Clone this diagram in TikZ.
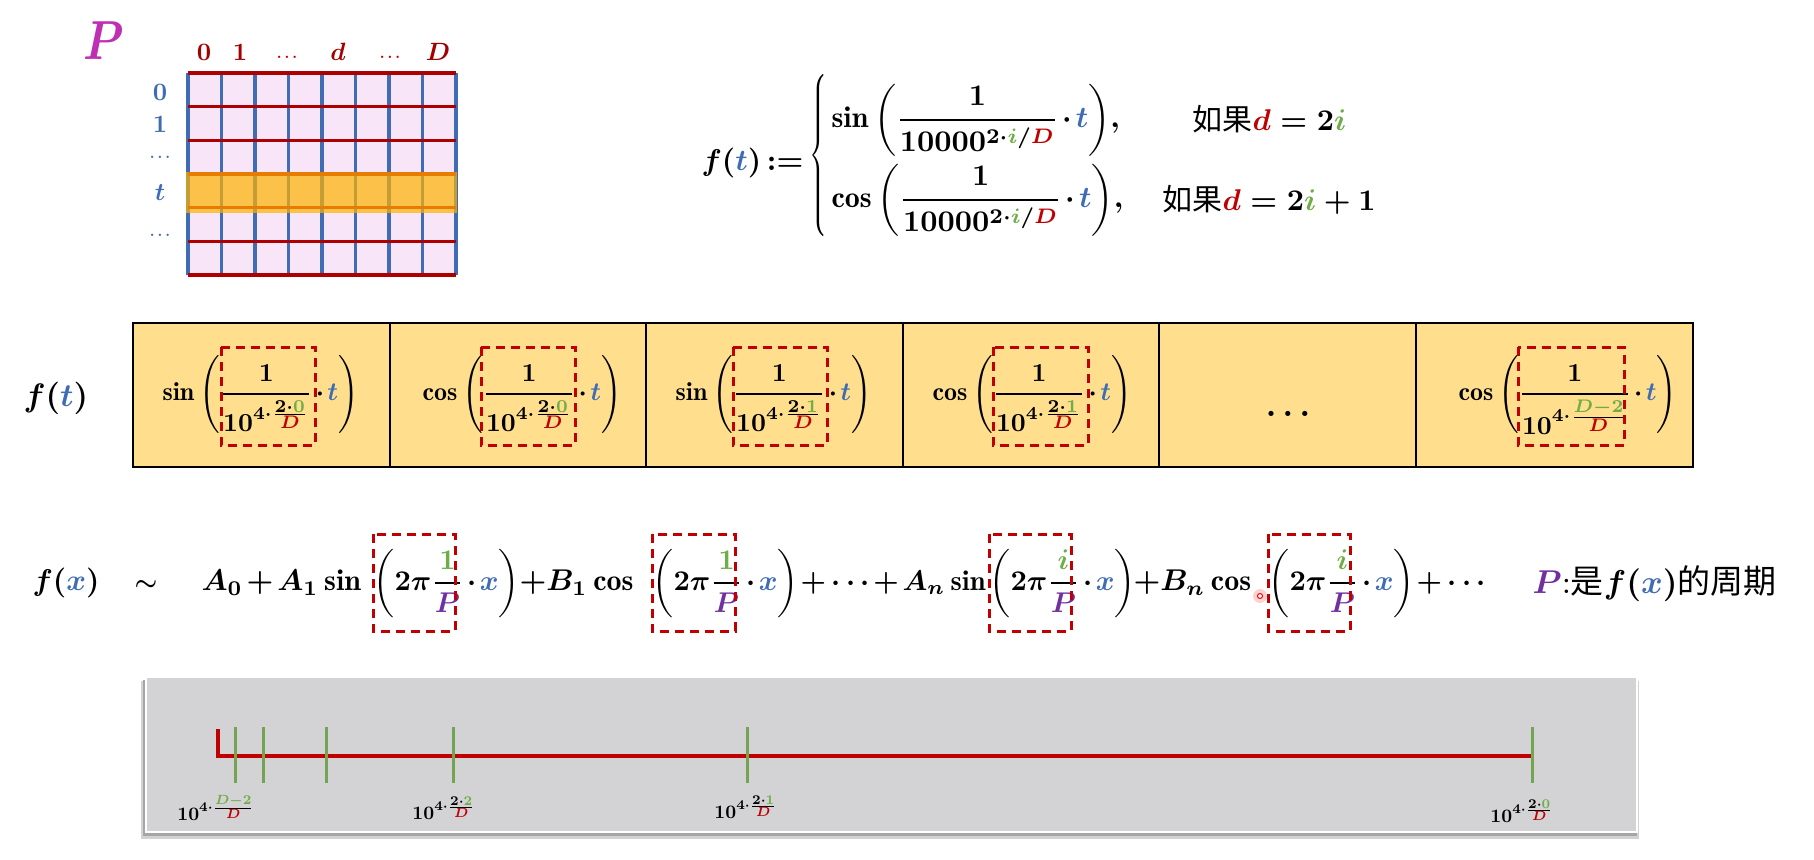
\documentclass[tikz,border=0pt]{standalone}
\usepackage{amsmath,amssymb}
\usepackage{fontspec}
\usepackage{tikz}
\newfontfamily\cjk{Noto Sans CJK SC}
\definecolor{tblue}{HTML}{3F6CB4}
\definecolor{dred}{HTML}{C00000}
\definecolor{igreen}{HTML}{70AD47}
\definecolor{pviolet}{HTML}{7030A0}
\definecolor{pmag}{HTML}{BE2FB4}
\definecolor{cellpink}{HTML}{F8E6F8}
\definecolor{cellyellow}{HTML}{FFDF8E}
\definecolor{panelgray}{HTML}{D3D3D5}
\newcommand{\tv}{\textcolor{tblue}{t}}
\newcommand{\xv}{\textcolor{tblue}{x}}
\newcommand{\dv}{\textcolor{dred}{d}}
\newcommand{\Dv}{\textcolor{dred}{D}}
\newcommand{\iv}[1]{\textcolor{igreen}{#1}}
\newcommand{\Pv}{\textcolor{pviolet}{P}}
\newcommand{\pw}[2]{10^{4\cdot\frac{\scriptstyle #1}{\scriptstyle #2}}}
\newcommand{\fr}[2]{\genfrac{}{}{0.7pt}{0}{#1}{#2}}
\tikzset{
  lab/.style={inner sep=0pt,scale=2.5},
  main/.style={inner sep=0pt,scale=3,anchor=base west},
  term/.style={inner sep=0pt,scale=2.85,anchor=base west},
  cellf/.style={inner sep=0pt,scale=2.6,anchor=base west},
  tick/.style={inner sep=0pt,scale=1.9},
  cell/.style={fill=cellyellow,draw=black,line width=1.5pt},
  redbox/.style={draw=dred,line width=3pt,dash pattern=on 9pt off 6pt},
  vline/.style={draw=tblue,line width=3.2pt},
  hline/.style={draw=dred!90!black,line width=3.2pt},
}
\begin{document}
\begin{tikzpicture}[x=1pt,y=-1pt]
  \useasboundingbox (0,0) rectangle (1814,859);
  \boldmath
  \medmuskip=2mu \thickmuskip=3mu
  % matrix P
  \node[inner sep=0pt,xscale=4.6,yscale=5.5,text=pmag] (bigP) at (104,41) {$P$};
  \fill[cellpink] (188,73) rectangle (456,275);
  \foreach \a in {0,...,8} \draw[vline] ({188+33.5*\a},73)--({188+33.5*\a},275);
  \foreach \a in {0,...,6} \draw[hline] (188,{73+33.67*\a})--(456,{73+33.67*\a});
  \fill[color=orange!60!yellow, opacity=0.7] (186,172) rectangle (457,213);
  \foreach \a/\b/\c in {c0/204/$0$,c1/240/$1$,cd/338/$d$,cD/438/$D$}
    \node[lab,text=dred!85!black] (\a) at (\b,52) {\c};
  \node[lab,scale=.6,text=dred] (cdots1) at (287,57) {$\ldots$};
  \node[lab,scale=.6,text=dred] (cdots2) at (390,57) {$\ldots$};
  \foreach \a/\b/\c in {r0/92/$0$,r1/124/$1$,rt/193/$t$}
    \node[lab,text=tblue] (\a) at (160,\b) {\c};
  \node[lab,scale=.6,text=tblue] (rdots1) at (160,157) {$\ldots$};
  \node[lab,scale=.6,text=tblue] (rdots2) at (160,235) {$\ldots$};

  % definition of f(t)
  \node[main] (ft) at (701,170) {$f(\tv)\mathrel{:=}$};
  \node[inner sep=0pt,xscale=2,yscale=3] (brace) at (820,158) {$\left\{\vrule height 26pt depth 26pt width 0pt\right.$};
  \node[main] (sinl) at (831,127.5) {$\sin\bigg(\fr{1}{10000^{2\cdot\iv{i}/\Dv}}\cdot\tv\bigg),$};
  \node[main] (cosl) at (831,207.5) {$\cos\bigg(\fr{1}{10000^{2\cdot\iv{i}/\Dv}}\cdot\tv\bigg),$};
  \node[main] (ifs) at (1192,130) {{\cjk 如果}$\thickmuskip=5mu\dv=2\iv{i}$};
  \node[main] (ifc) at (1162,210) {{\cjk 如果}$\thickmuskip=5mu\medmuskip=4mu\dv=2\iv{i}+1$};

  % table of cells
  \node[cellf,scale=1.25] (ftt) at (23,406) {$f(\tv)$};
  \foreach \a/\b in {133/390,390/646,646/903,903/1159,1159/1416,1416/1693}
    \draw[cell] (\a,323) rectangle (\b,467);
  \draw[line width=2.5pt] (133,323) rectangle (1693,467);
  \node[cellf] (a1) at (162,400.5) {$\sin\Bigg(\fr{1}{\pw{2\cdot\iv{0}}{\Dv}}\cdot\tv\Bigg)$};
  \node[cellf] (a2) at (422,400.5) {$\cos\Bigg(\fr{1}{\pw{2\cdot\iv{0}}{\Dv}}\cdot\tv\Bigg)$};
  \node[cellf] (a3) at (675,400.5) {$\sin\Bigg(\fr{1}{\pw{2\cdot\iv{1}}{\Dv}}\cdot\tv\Bigg)$};
  \node[cellf] (a4) at (932,400.5) {$\cos\Bigg(\fr{1}{\pw{2\cdot\iv{1}}{\Dv}}\cdot\tv\Bigg)$};
  \node[inner sep=0pt,scale=3.3] (a5) at (1288,414) {$\ldots$};
  \node[cellf] (a6) at (1458,400.5) {$\cos\Bigg(\fr{1}{\pw{\iv{D-2}}{\Dv}}\cdot\tv\Bigg)$};
  \foreach \a/\b in {221/315,481/575,733/827,993/1088,1518/1624}
    \draw[redbox] (\a,347) rectangle (\b,445);

  % fourier series
  \node[main] (fx) at (32,590.5) {$f(\xv)$};
  \node[main,scale=.85] (sim) at (134,590.5) {$\sim$};
  \node[main] (s1) at (201,590.5) {$A_0+A_1\sin$};
  \node[term] (p1) at (373,590.5) {$\bigg(2\pi\fr{\iv{1}}{\Pv}\cdot\xv\bigg)$};
  \node[main] (s2) at (519,590.5) {$\medmuskip=4mu+B_1\cos$};
  \node[term] (p2) at (652,590.5) {$\bigg(2\pi\fr{\iv{1}}{\Pv}\cdot\xv\bigg)$};
  \node[term] (s3) at (800,590.5) {$+\cdots+A_n\sin$};
  \node[term] (p3) at (989,590.5) {$\bigg(2\pi\fr{\iv{i}}{\Pv}\cdot\xv\bigg)$};
  \node[main] (s4) at (1133,590.5) {$\medmuskip=4mu+B_n\cos$};
  \node[term] (p4) at (1268,590.5) {$\bigg(2\pi\fr{\iv{i}}{\Pv}\cdot\xv\bigg)$};
  \node[term] (s5) at (1416,590.5) {$+\cdots$};
  \node[main,scale=1.1] (period) at (1532,593) {$\Pv$:{\cjk 是}$f(\xv)${\cjk 的周期}};
  \foreach \a/\b in {373/455,652/735,989/1071,1268/1350}
    \draw[redbox] (\a,534) rectangle (\b,631);
  \fill[red!30,opacity=.6] (1260,596) circle (7);
  \draw[red,line width=1pt,fill=white] (1260,596) circle (2.5);

  % time line
  \fill[gray!35] (141,681) rectangle (1639,839);
  \fill[gray!70] (143,680) rectangle (1637,836);
  \draw[draw=white,fill=panelgray,line width=2pt] (146,677) rectangle (1637,832);
  \draw[dred,line width=4pt] (218,729)--(218,756)--(1532,756);
  \foreach \a in {235,263,326,453,747,1532}
    \draw[igreen!80!gray,line width=3pt] (\a,727)--(\a,783);
  \node[tick] (t1) at (216,808) {$\pw{\iv{D-2}}{\Dv}$};
  \node[tick] (t2) at (444,808) {$\pw{2\cdot\iv{2}}{\Dv}$};
  \node[tick] (t3) at (746,807) {$\pw{2\cdot\iv{1}}{\Dv}$};
  \node[tick] (t4) at (1522,811) {$\pw{2\cdot\iv{0}}{\Dv}$};
\end{tikzpicture}
\end{document}
